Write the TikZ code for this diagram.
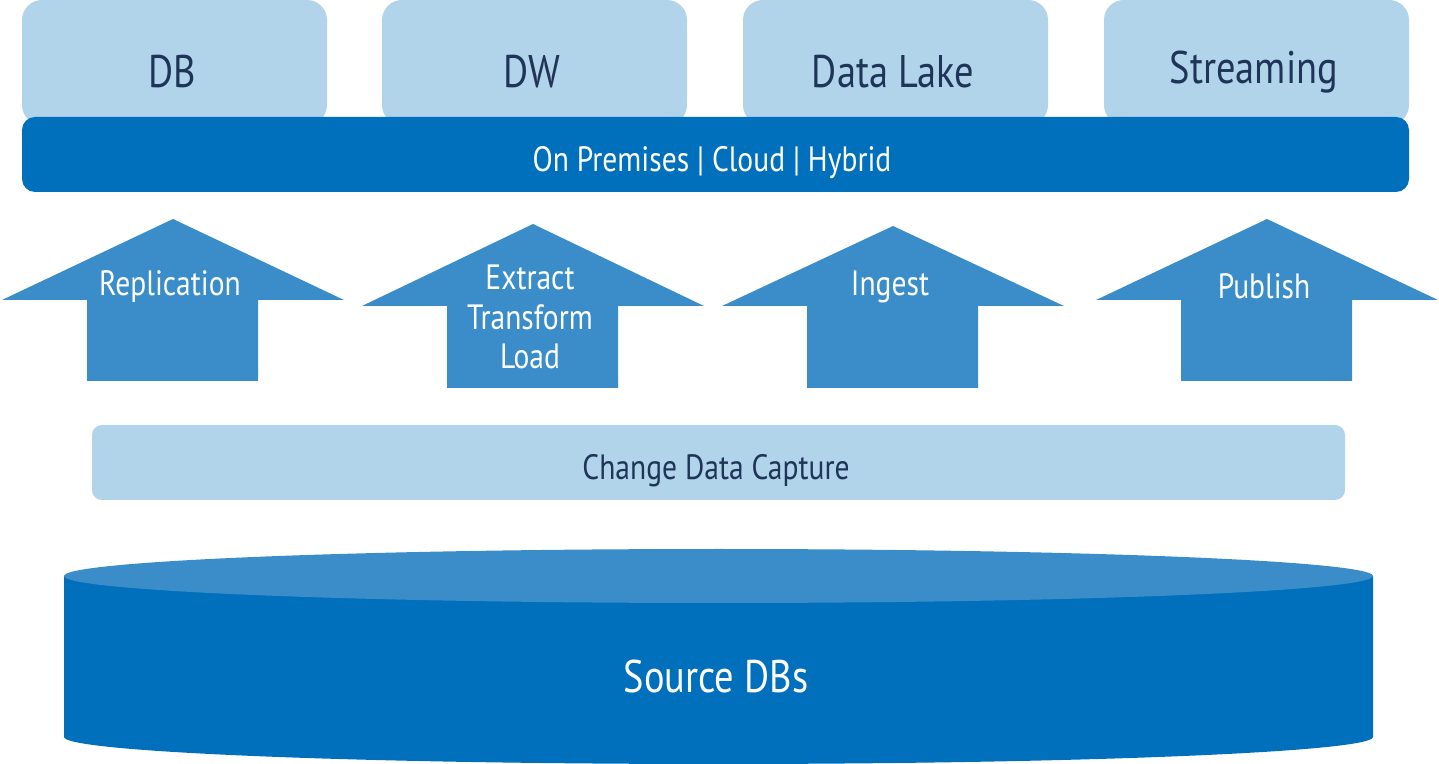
\documentclass[tikz,border=0pt]{standalone}
\usepackage{fontspec}
\setmainfont{PT Sans}[FakeStretch=0.84]
\usetikzlibrary{calc, positioning}
\definecolor{lightblu}{HTML}{B1D4EA}
\definecolor{darkblu}{HTML}{0070BC}
\definecolor{midblu}{HTML}{3A8DC9}
\definecolor{navy}{HTML}{1F3558}
\tikzset{
  target/.style={fill=lightblu, rounded corners=0.2cm},
  tgtlabel/.style={text=navy, font=\fontsize{13}{15}\selectfont},
  whitelabel/.style={text=white, font=\fontsize{10}{11.2}\selectfont, align=center},
}
\begin{document}
\begin{tikzpicture}[x=0.01cm, y=-0.01cm]
         \useasboundingbox (0,0) rectangle (1439,764);
         % targets
         \foreach \xa/\txt [count=\i] in {22/DB, 382/DW, 743/Data Lake, 1104/Streaming}{
            \fill[target] (\xa,0) rectangle ++(305,125);
            \node[tgtlabel] (tgt\i) at (\xa+150,72) {\txt};
         }
         \fill[darkblu, rounded corners=0.13cm] (22,117) rectangle (1409,192);
         \node[whitelabel] (env) at (712,163) {On Premises | Cloud | Hybrid};
         % arrows
         \foreach \xa/\ty/\by/\bot/\txt/\ly [count=\i] in {
            2/219/300/381/Replication/287,
            362/224/306/388/{Extract\\Transform\\Load}/317,
            722/226/306/388/Ingest/287,
            1096/219/300/381/Publish/286}{
            \fill[midblu] (\xa+171,\ty) -- (\xa+342,\by) -- (\xa+256,\by) -- (\xa+256,\bot)
               -- (\xa+85,\bot) -- (\xa+85,\by) -- (\xa,\by) -- cycle;
            \node[whitelabel] (mode\i) at (\xa+168,\ly) {\txt};
         }
         % capture
         \fill[lightblu, rounded corners=0.1cm] (92,425) rectangle (1345,500);
         \node[tgtlabel, font=\fontsize{10}{12}\selectfont] (cdc) at (716,471) {Change Data Capture};
         % source
         \fill[darkblu] (64,576) -- (64,737) arc[start angle=180, end angle=0, x radius=654.5, y radius=27]
            -- (1373,576) -- cycle;
         \fill[midblu] (718.5,576) ellipse[x radius=654.5, y radius=27];
         \node[whitelabel, font=\fontsize{13}{15}\selectfont] (src) at (716,676) {Source DBs};
\end{tikzpicture}
\end{document}
